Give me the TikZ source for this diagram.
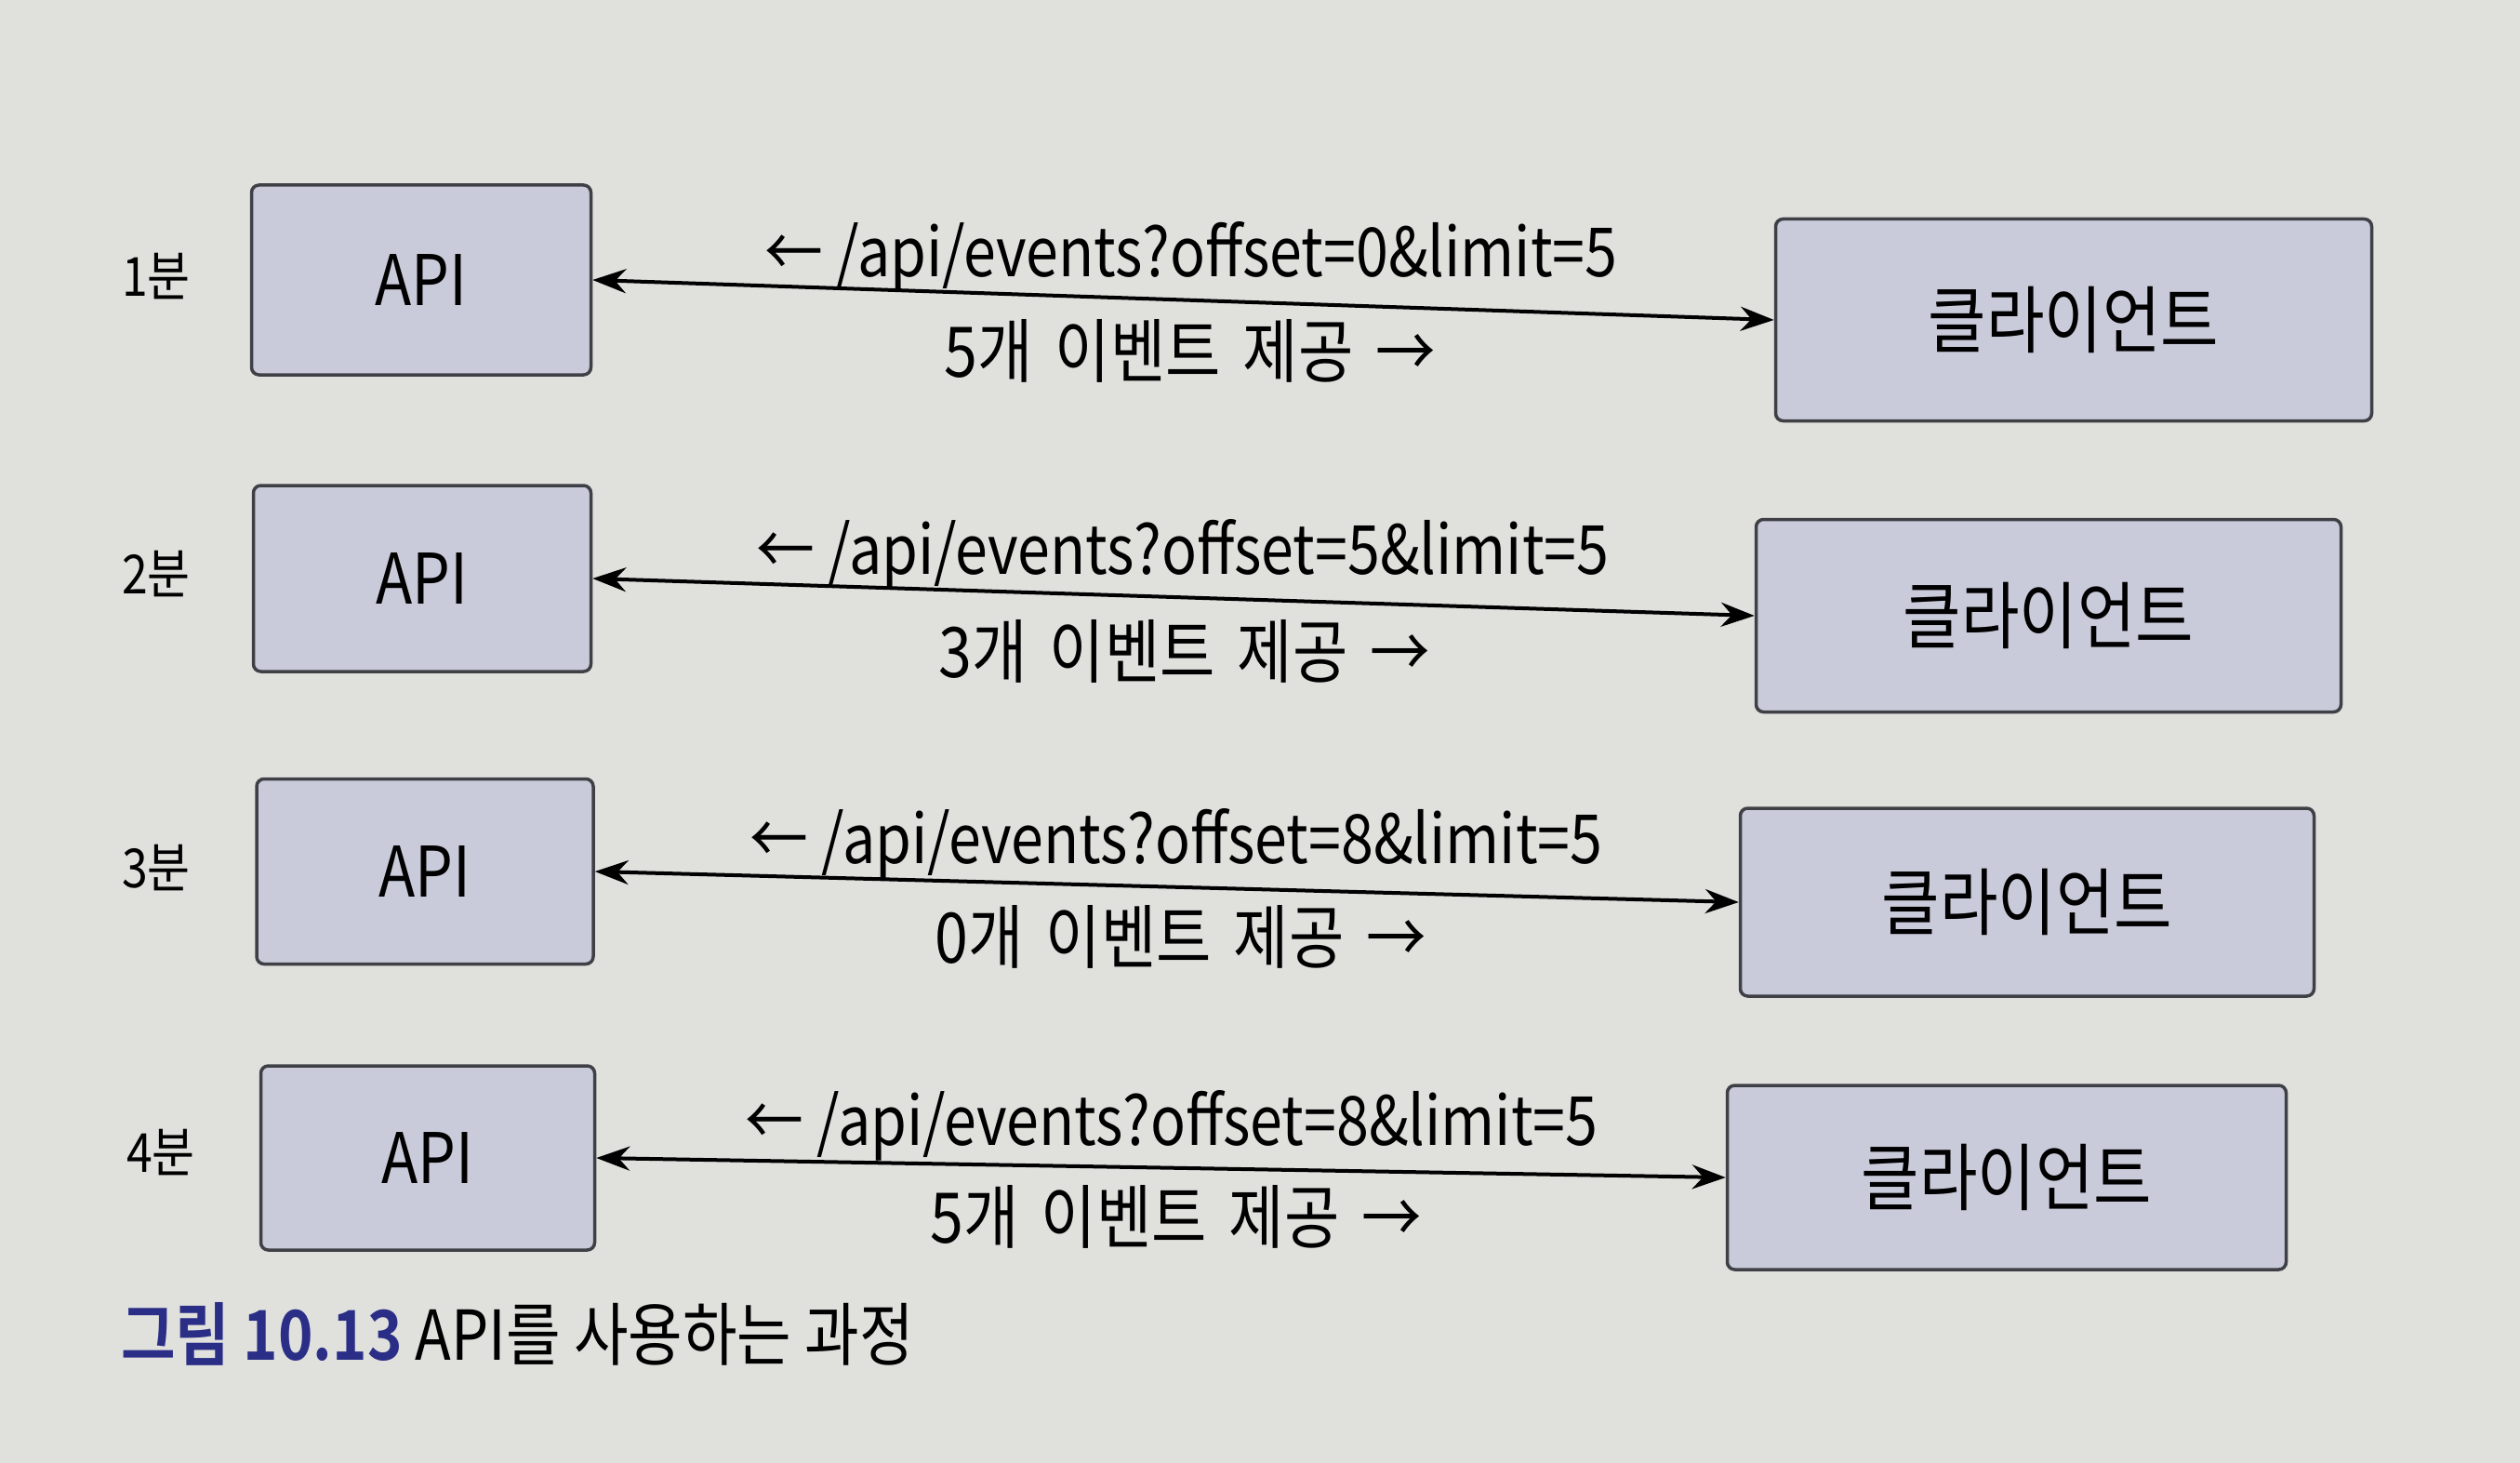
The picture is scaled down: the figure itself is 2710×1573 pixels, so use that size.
\documentclass[tikz,border=0pt]{standalone}
\usepackage{fontspec}
\setmainfont{Noto Sans CJK KR}[FakeStretch=0.86,BoldFont={Noto Sans CJK KR Bold}]
\usetikzlibrary{arrows.meta}
\definecolor{bg}{HTML}{E0E1DD}
\definecolor{boxfill}{HTML}{C9CBDA}
\definecolor{boxline}{HTML}{3F4046}
\definecolor{capblue}{HTML}{2B2E86}
\newcommand\respfont{\fontsize{75}{80}\selectfont\spaceskip=24pt\relax}
\begin{document}
\begin{tikzpicture}[x=1pt,y=-1pt,
  box/.style={draw=boxline, line width=3.5pt, fill=boxfill, rounded corners=8pt, inner sep=0pt},
  apibox/.style={box, font=\fontsize{75}{80}\selectfont},
  clbox/.style={box, font=\fontsize{79}{84}\selectfont},
  timelbl/.style={font=\fontsize{58}{62}\selectfont, inner sep=0pt},
  req/.style={font=\fontsize{73}{78}\selectfont, inner sep=0pt},
  resp/.style={font=\respfont, inner sep=0pt},
  link/.style={line width=4pt, {Stealth[length=36pt,width=26pt]}-{Stealth[length=36pt,width=26pt]}}
]
\fill[bg] (0,0) rectangle (2710,1573);
\useasboundingbox (0,0) rectangle (2710,1573);

% row 1
\node[timelbl] (t1) at (168,297) {1분};
\node[apibox, minimum width=365pt, minimum height=204pt] (api1) at (453,301) {API};
\node[clbox, minimum width=641pt, minimum height=217pt] (cl1) at (2230,344) {클라이언트};
\draw[link] (api1.east) -- (cl1.west);
\node[req] (q1) at (1281,276) {← /api/events?offset=0\&limit=5};
\node[resp] (r1) at (1280,377) {5개 이벤트 제공 →};

% row 2
\node[timelbl] (t2) at (168,617) {2분};
\node[apibox, minimum width=363pt, minimum height=200pt] (api2) at (454,622) {API};
\node[clbox, minimum width=629pt, minimum height=207pt] (cl2) at (2203,662) {클라이언트};
\draw[link] (api2.east) -- (cl2.west);
\node[req] (q2) at (1272,596) {← /api/events?offset=5\&limit=5};
\node[resp] (r2) at (1274,700) {3개 이벤트 제공 →};

% row 3
\node[timelbl] (t3) at (168,933) {3분};
\node[apibox, minimum width=362pt, minimum height=199pt] (api3) at (457,937) {API};
\node[clbox, minimum width=617pt, minimum height=202pt] (cl3) at (2180,970) {클라이언트};
\draw[link] (api3.east) -- (cl3.west);
\node[req] (q3) at (1265,907) {← /api/events?offset=8\&limit=5};
\node[resp] (r3) at (1270,1007) {0개 이벤트 제공 →};

% row 4
\node[timelbl] (t4) at (173,1239) {4분};
\node[apibox, minimum width=359pt, minimum height=198pt] (api4) at (460,1245) {API};
\node[clbox, minimum width=601pt, minimum height=198pt] (cl4) at (2158,1266) {클라이언트};
\draw[link] (api4.east) -- (cl4.west);
\node[req] (q4) at (1260,1210) {← /api/events?offset=8\&limit=5};
\node[resp] (r4) at (1265,1308) {5개 이벤트 제공 →};

% caption
\node[anchor=west, inner sep=0pt, font=\fontsize{74}{78}\selectfont] (cap) at (130,1434)
  {\textcolor{capblue}{\bfseries 그림 10.13} API를 사용하는 과정};
\end{tikzpicture}
\end{document}
